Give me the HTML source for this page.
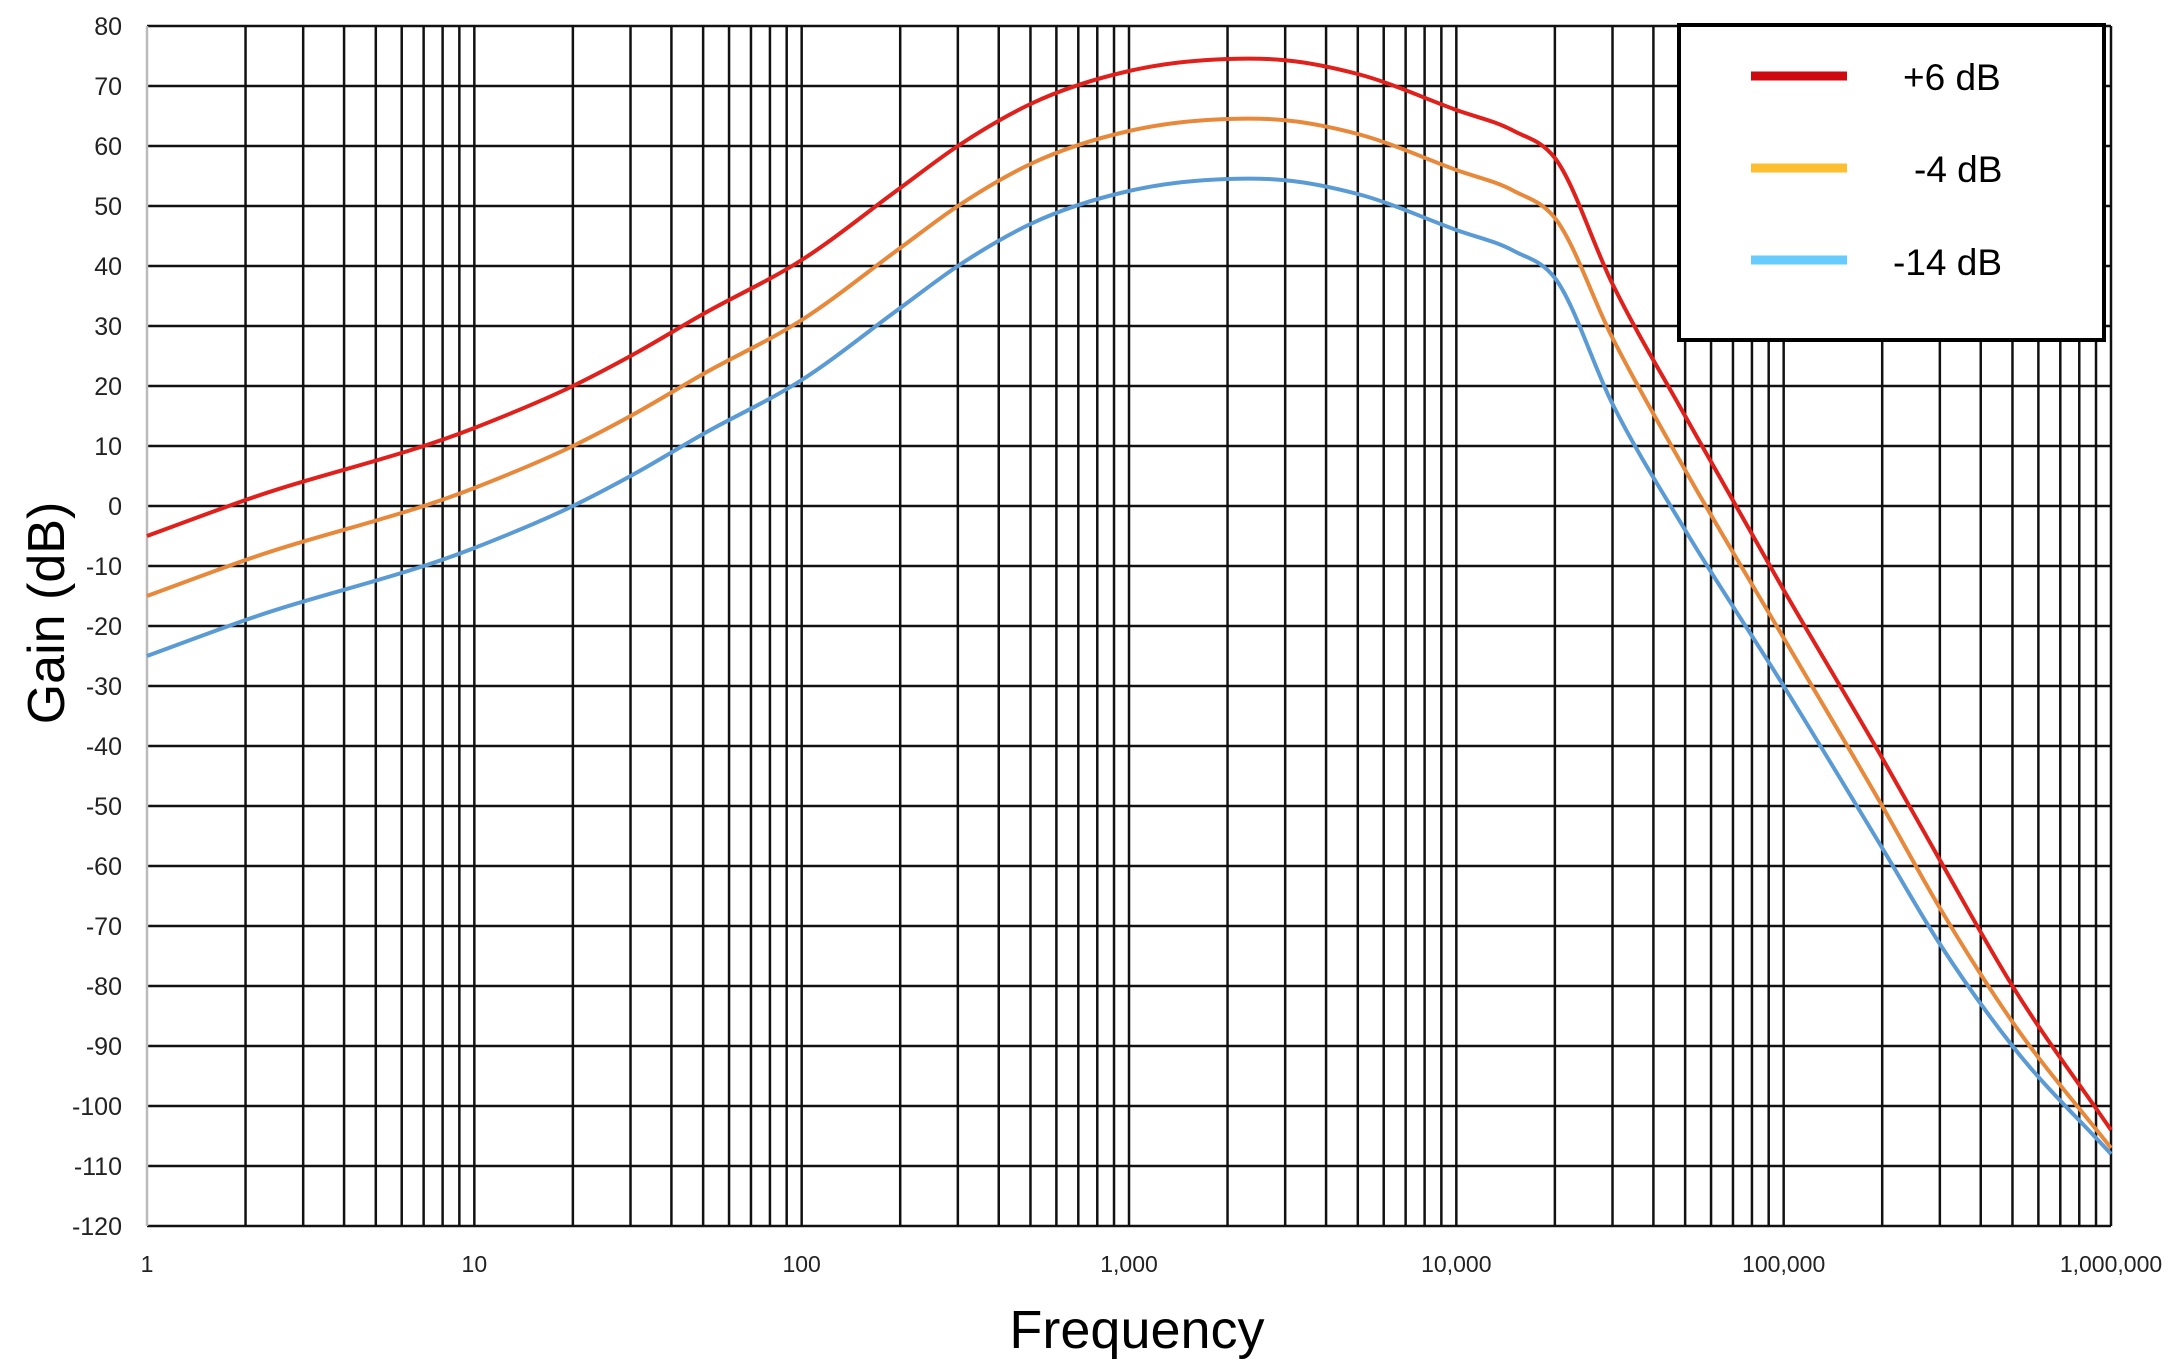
<!DOCTYPE html>
<html><head><meta charset="utf-8"><style>
html,body{margin:0;padding:0;background:#fff;}
svg{display:block;font-family:"Liberation Sans",Arial,sans-serif;}
</style></head><body>
<svg id="chart" width="2184" height="1370" viewBox="0 0 2184 1370" xmlns="http://www.w3.org/2000/svg">
<g id="grid"></g>
<g id="ylabels"></g>
<g id="xlabels"></g>
<g id="series"></g>
<text x="0" y="0" transform="translate(64,613) rotate(-90)" text-anchor="middle" font-size="52" fill="#000">Gain (dB)</text>
<text x="1137" y="1348" text-anchor="middle" font-size="54" fill="#000">Frequency</text>
<g>
<rect x="1679" y="25" width="425" height="315" fill="#fff" stroke="#000" stroke-width="4"/>
<line x1="1751" y1="76" x2="1847" y2="76" stroke="#cc0a0f" stroke-width="9"/>
<text x="1903" y="90" font-size="37" fill="#000">+6 dB</text>
<line x1="1751" y1="168" x2="1847" y2="168" stroke="#fdbf2f" stroke-width="9"/>
<text x="1914" y="182" font-size="37" fill="#000">-4 dB</text>
<line x1="1751" y1="260" x2="1847" y2="260" stroke="#66ccff" stroke-width="9"/>
<text x="1893" y="275" font-size="37" fill="#000">-14 dB</text>
</g>
</svg>
<script>
const freqs = [1,2,10,20,30,50,100,200,300,500,1000,2000,3000,5000,10000,15000,20000,30000,50000,100000,200000,300000,500000,1000000];
const gainPlus6 = [-5,1,13,20,25,32,41,53,60,67,72.5,74.5,74.3,72,66,62.5,58,37,15,-14,-42,-59,-80,-104];
const gainMinus4 = [-15,-9,3,10,15,22,31,43,50,57,62.5,64.5,64.3,62,56,52.5,48,28,6,-22,-50,-67,-86,-107];
const gainMinus14 = [-25,-19,-7,0,5,12,21,33,40,47,52.5,54.5,54.3,52,46,42.5,38,17,-4,-30,-57,-73,-90,-108];
const yTicks = [80,70,60,50,40,30,20,10,0,-10,-20,-30,-40,-50,-60,-70,-80,-90,-100,-110,-120];
const xTickLabels = ["1","10","100","1,000","10,000","100,000","1,000,000"];

const L=147,R=2111,T=26,B=1226;
const NS="http://www.w3.org/2000/svg";
function xs(f){return L+(Math.log10(f)/6)*(R-L);}
function ys(v){return T+(80-v)/200*(B-T);}
function mk(tag,attrs,parent){const e=document.createElementNS(NS,tag);for(const k in attrs)e.setAttribute(k,attrs[k]);parent.appendChild(e);return e;}

const grid=document.getElementById('grid');
for(const v of yTicks){
  const ln=mk('line',{x1:L,x2:R,y1:ys(v),y2:ys(v),stroke:'#111','stroke-width':2.5},grid);
  
  
}
for(let d=0;d<6;d++){for(let m=1;m<=9;m++){
  const f=m*Math.pow(10,d);
  const ln=mk('line',{x1:xs(f),x2:xs(f),y1:T,y2:B,stroke:(f===1?'#bbb':'#111'),'stroke-width':2.5},grid);
  
  
}}
const lastV=mk('line',{x1:xs(1e6),x2:xs(1e6),y1:T,y2:B,stroke:'#111','stroke-width':2.5},grid);



const yl=document.getElementById('ylabels');
for(const v of yTicks){
  const t=mk('text',{x:122,y:ys(v)+9,'text-anchor':'end','font-size':25,fill:'#222'},yl);
  t.textContent=String(v);
  
  
}
const xl=document.getElementById('xlabels');
xTickLabels.forEach((s,i)=>{
  const t=mk('text',{x:xs(Math.pow(10,i)),y:1272,'text-anchor':'middle','font-size':23,fill:'#222'},xl);
  t.textContent=s;
  
  
});

function pathFor(vals){
  const p=freqs.map((f,i)=>[xs(f),ys(vals[i])]);
  const n=p.length;
  const sl=[];
  for(let i=0;i<n-1;i++)sl.push((p[i+1][1]-p[i][1])/(p[i+1][0]-p[i][0]));
  const m=[];
  for(let i=0;i<n;i++){
    if(i===0)m.push(sl[0]);
    else if(i===n-1)m.push(sl[n-2]);
    else{
      const h0=p[i][0]-p[i-1][0],h1=p[i+1][0]-p[i][0];
      m.push((sl[i-1]*h1+sl[i]*h0)/(h0+h1));
    }
  }
  let d='M'+p[0][0]+','+p[0][1];
  for(let i=0;i<n-1;i++){
    const h=(p[i+1][0]-p[i][0])/3;
    d+=' C'+(p[i][0]+h)+','+(p[i][1]+m[i]*h)+' '+(p[i+1][0]-h)+','+(p[i+1][1]-m[i+1]*h)+' '+p[i+1][0]+','+p[i+1][1];
  }
  return d;
}
const sg=document.getElementById('series');
const s3=mk('path',{d:pathFor(gainMinus14),fill:'none',stroke:'#5b9bd5','stroke-width':4},sg);


const s2=mk('path',{d:pathFor(gainMinus4),fill:'none',stroke:'#e8883a','stroke-width':4},sg);


const s1=mk('path',{d:pathFor(gainPlus6),fill:'none',stroke:'#e0201b','stroke-width':4},sg);


</script>
</body></html>
